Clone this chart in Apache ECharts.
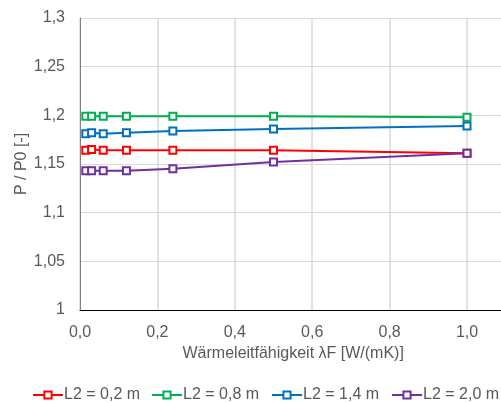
<!DOCTYPE html>
<html>
<head>
<meta charset="utf-8">
<script src="https://cdn.jsdelivr.net/npm/echarts@6/dist/echarts.min.js"></script>
<style>html,body{margin:0;padding:0;background:#fff;}#c{width:501px;height:403px;}</style>
</head>
<body>
<div id="c"></div>
<script>
const lambdaF = [0.015, 0.03, 0.06, 0.12, 0.24, 0.5, 1.0];
const seriesNames = ['L2 = 0,2 m', 'L2 = 0,8 m', 'L2 = 1,4 m', 'L2 = 2,0 m'];
const l2_02 = [1.164, 1.165, 1.164, 1.164, 1.164, 1.164, 1.161];
const l2_08 = [1.199, 1.199, 1.199, 1.199, 1.199, 1.199, 1.198];
const l2_14 = [1.181, 1.182, 1.181, 1.182, 1.184, 1.186, 1.189];
const l2_20 = [1.143, 1.143, 1.143, 1.143, 1.145, 1.152, 1.161];
const colors = ['#FF0000', '#00B050', '#0070C0', '#7030A0'];
const values = [l2_02, l2_08, l2_14, l2_20];
const legendLeft = [32, 151, 271, 391];

const fmt = (v, d) => v.toFixed(d).replace('.', ',');
const font = 'Liberation Sans, Arial, sans-serif';

const chart = echarts.init(document.getElementById('c'), null, {renderer: 'canvas'});
chart.setOption({
  animation: false,
  backgroundColor: '#fff',
  grid: {left: 80, top: 18, height: 292, width: 464.4, containLabel: false, outerBoundsMode: 'none'},
  xAxis: {
    type: 'value', min: 0, max: 1.2, interval: 0.2,
    name: 'Wärmeleitfähigkeit λF [W/(mK)]', nameLocation: 'middle', nameGap: 36,
    nameMoveOverlap: false,
    nameTextStyle: {color: '#595959', fontSize: 16, fontFamily: font, padding: [0, 38, 0, 0]},
    axisLine: {show: true, lineStyle: {color: '#000', width: 1}},
    axisTick: {show: false},
    axisLabel: {color: '#595959', fontSize: 16, fontFamily: font, margin: 15,
      formatter: v => fmt(v, 1)},
    splitLine: {show: true, lineStyle: {color: '#d9d9d9', width: 1.5}}
  },
  yAxis: {
    type: 'value', min: 1, max: 1.3, interval: 0.05,
    name: 'P / P0 [-]', nameLocation: 'middle', nameGap: 50, nameRotate: 90,
    nameMoveOverlap: false,
    nameTextStyle: {color: '#595959', fontSize: 16, fontFamily: font},
    axisLine: {show: true, lineStyle: {color: '#808080', width: 1}},
    axisTick: {show: false},
    axisLabel: {color: '#595959', fontSize: 16, fontFamily: font, margin: 15,
      formatter: v => String(Math.round(v * 100) / 100).replace('.', ',')},
    splitLine: {show: true, lineStyle: {color: '#d9d9d9', width: 1}}
  },
  legend: seriesNames.map((n, i) => ({
    bottom: 0, left: legendLeft[i], padding: 0, itemWidth: 30, itemHeight: 9,
    textStyle: {color: '#595959', fontSize: 16, fontFamily: font, padding: [0, 0, 0, -4]},
    data: [n]
  })),
  series: values.map((vals, i) => ({
    name: seriesNames[i],
    type: 'line',
    data: lambdaF.map((x, j) => [x, vals[j]]),
    symbol: 'rect', symbolSize: 7,
    showAllSymbol: true,
    lineStyle: {color: colors[i], width: 2},
    itemStyle: {color: '#fff', borderColor: colors[i], borderWidth: 2},
    z: 2 + i
  }))
});
</script>
</body>
</html>
